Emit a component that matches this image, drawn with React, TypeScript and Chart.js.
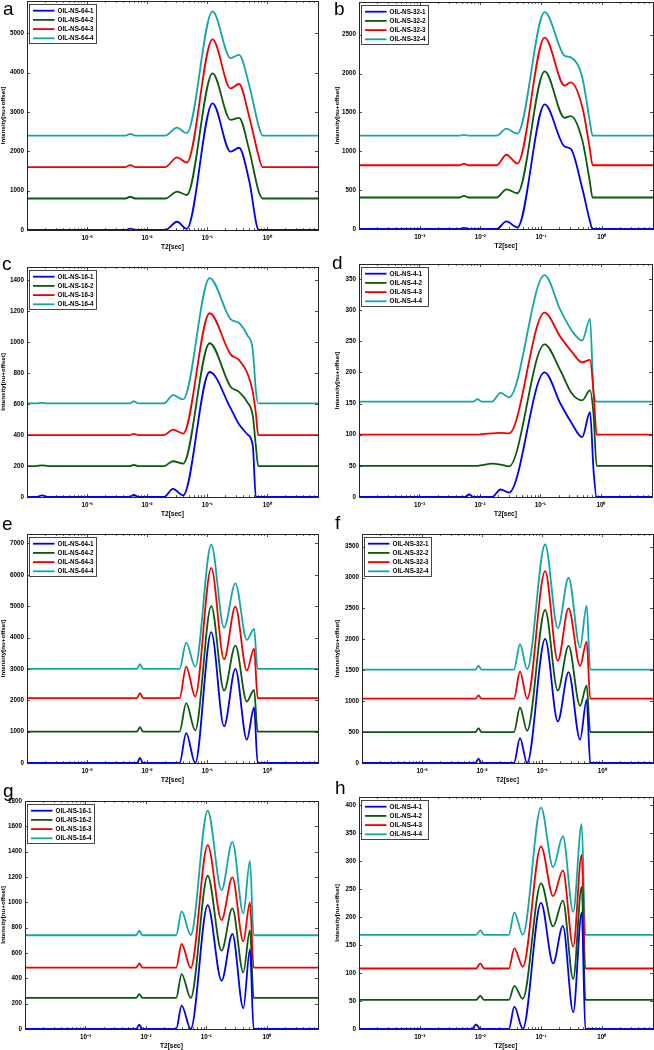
import React, { useEffect, useRef } from "react";
import { Chart, registerables } from "chart.js";

Chart.register(...registerables);

const FONT = '"Liberation Sans", Arial, Helvetica, sans-serif';
const COLORS = ["#0000f2", "#0b5a0b", "#f20000", "#14a6a6"];

// ---- axis ticks ----
const X_MIN = 0.0001;
const X_MAX = 7;
const X_TICKS = [0.001, 0.01, 0.1, 1];
const X_TICK_LABELS = ["10⁻³", "10⁻²", "10⁻¹", "10⁰"];

const Y_TICKS_A = [0, 1000, 2000, 3000, 4000, 5000];
const Y_TICKS_B = [0, 500, 1000, 1500, 2000, 2500];
const Y_TICKS_C = [0, 200, 400, 600, 800, 1000, 1200, 1400];
const Y_TICKS_D = [0, 50, 100, 150, 200, 250, 300, 350];
const Y_TICKS_E = [0, 1000, 2000, 3000, 4000, 5000, 6000, 7000];
const Y_TICKS_F = [0, 500, 1000, 1500, 2000, 2500, 3000, 3500];
const Y_TICKS_G = [0, 200, 400, 600, 800, 1000, 1200, 1400, 1600, 1800];
const Y_TICKS_H = [0, 50, 100, 150, 200, 250, 300, 350, 400];

// ---- series names ----
const NAMES_64 = ["OIL-NS-64-1", "OIL-NS-64-2", "OIL-NS-64-3", "OIL-NS-64-4"];
const NAMES_32 = ["OIL-NS-32-1", "OIL-NS-32-2", "OIL-NS-32-3", "OIL-NS-32-4"];
const NAMES_16 = ["OIL-NS-16-1", "OIL-NS-16-2", "OIL-NS-16-3", "OIL-NS-16-4"];
const NAMES_4 = ["OIL-NS-4-1", "OIL-NS-4-2", "OIL-NS-4-3", "OIL-NS-4-4"];

// ---- panel a ----
const T2_A = [0.0001, 0.00437, 0.00525, 0.00631, 0.02, 0.0316, 0.0457, 0.123, 0.245, 0.339, 0.501, 0.724, 0.832, 7.0];
const A1 = [0, 0, 35, 0, 0, 210, 30, 3220, 1990, 2090, 1250, 0, 0, 0];
const A2 = [800, 800, 845, 800, 800, 975, 890, 3980, 2800, 2850, 2030, 970, 800, 800];
const A3 = [1600, 1600, 1650, 1600, 1600, 1845, 1710, 4845, 3600, 3710, 2880, 1860, 1600, 1600];
const A4 = [2400, 2400, 2440, 2400, 2400, 2600, 2460, 5555, 4370, 4450, 3680, 2630, 2400, 2400];

// ---- panel b ----
const T2_B = [0.0001, 0.00447, 0.00537, 0.00646, 0.0186, 0.0269, 0.0407, 0.115, 0.245, 0.309, 0.479, 0.631, 0.708, 7.0];
const B1 = [0, 0, 15, 0, 0, 98, 20, 1602, 1060, 1030, 520, 120, 0, 0];
const B2 = [405, 405, 425, 405, 405, 510, 460, 2028, 1430, 1453, 1140, 630, 405, 405];
const B3 = [820, 820, 840, 820, 820, 955, 843, 2462, 1845, 1887, 1570, 1055, 820, 820];
const B4 = [1200, 1200, 1212, 1200, 1200, 1290, 1227, 2790, 2228, 2207, 1950, 1400, 1200, 1200];

// ---- panel c ----
const T2_C = [0.0001, 0.000141, 0.000178, 0.000224, 0.00501, 0.00603, 0.00724, 0.0191, 0.0269, 0.0398, 0.11, 0.245, 0.339, 0.468, 0.575, 0.646, 0.708, 7.0];
const C1 = [0, 0, 10, 0, 0, 13, 0, 0, 52, 10, 808, 575, 470, 405, 330, 0, 0, 0];
const C2 = [200, 200, 205, 200, 200, 207, 200, 200, 231, 216, 994, 713, 680, 612, 525, 330, 200, 200];
const C3 = [400, 400, 400, 400, 400, 408, 400, 400, 436, 410, 1188, 922, 886, 800, 680, 540, 400, 400];
const C4 = [605, 605, 608, 605, 605, 618, 605, 605, 659, 631, 1415, 1150, 1125, 1045, 950, 690, 605, 605];

// ---- panel d ----
const T2_D = [0.0001, 0.00562, 0.00661, 0.00776, 0.00912, 0.0107, 0.0158, 0.0219, 0.0302, 0.117, 0.214, 0.331, 0.49, 0.661, 0.759, 0.851, 7.0];
const D1 = [0, 0, 4, 0, 0, 0, 0, 12, 7, 200, 150, 118, 96, 136, 40, 0, 0];
const D2 = [50, 50, 50, 50, 50, 51, 53.5, 52, 49, 245, 203, 166, 155, 171, 130, 50, 50];
const D3 = [100, 100, 100, 100, 100, 101, 102, 103, 102, 296, 257, 233, 216, 220, 166, 100, 100];
const D4 = [153, 153, 153, 153, 157, 153, 153, 167, 160, 356, 300, 267, 251, 286, 165, 153, 153];

// ---- panel e ----
const T2_E = [0.0001, 0.00676, 0.00759, 0.00851, 0.0347, 0.0447, 0.0631, 0.117, 0.191, 0.295, 0.457, 0.603, 0.692, 7.0];
const E1 = [0, 0, 160, 0, 0, 954, 0, 4170, 1166, 3000, 742, 1770, 0, 0];
const E2 = [1000, 1000, 1145, 1000, 1000, 1908, 1040, 5003, 2311, 3742, 1961, 2332, 1000, 1000];
const E3 = [2070, 2070, 2226, 2070, 2070, 3074, 2120, 6222, 3307, 4982, 2947, 3646, 2070, 2070];
const E4 = [3000, 3000, 3148, 3000, 3000, 3837, 3074, 6964, 4314, 5724, 3922, 4272, 3000, 3000];

// ---- panel f ----
const T2_F = [0.0001, 0.00776, 0.00871, 0.00977, 0.0339, 0.0427, 0.0562, 0.112, 0.182, 0.275, 0.427, 0.55, 0.631, 7.0];
const F1 = [0, 0, 70, 0, 0, 403, 0, 2007, 672, 1469, 377, 1022, 0, 0];
const F2 = [500, 500, 565, 500, 500, 898, 522, 2475, 1173, 1894, 925, 1254, 500, 500];
const F3 = [1040, 1040, 1092, 1040, 1040, 1480, 1040, 3104, 1652, 2502, 1571, 1964, 1040, 1040];
const F4 = [1510, 1510, 1576, 1510, 1510, 1921, 1517, 3535, 2179, 2997, 1867, 2545, 1510, 1510];

// ---- panel g ----
const T2_G = [0.0001, 0.00692, 0.00776, 0.00871, 0.0316, 0.0389, 0.055, 0.105, 0.178, 0.269, 0.407, 0.525, 0.603, 7.0];
const G1 = [0, 0, 34, 0, 0, 184, 0, 978, 381, 750, 163, 631, 0, 0];
const G2 = [245, 245, 276, 245, 245, 434, 245, 1210, 618, 952, 447, 781, 245, 245];
const G3 = [485, 485, 518, 485, 485, 671, 481, 1452, 860, 1197, 692, 1000, 485, 485];
const G4 = [740, 740, 776, 740, 740, 928, 742, 1723, 1097, 1478, 913, 1328, 740, 740];

// ---- panel h ----
const T2_H = [0.0001, 0.00724, 0.00851, 0.01, 0.0115, 0.0295, 0.0363, 0.0501, 0.1, 0.158, 0.229, 0.339, 0.468, 0.537, 7.0];
const H1 = [0, 0, 8, 0, 0, 0, 40, 0, 225, 117, 184, 30, 208, 0, 0];
const H2 = [52, 52, 52, 59, 52, 52, 77, 54, 260, 183, 229, 89, 254, 52, 52];
const H3 = [108, 108, 108, 117, 108, 108, 144, 111, 326, 237, 283, 147, 311, 108, 108];
const H4 = [168, 168, 168, 176, 168, 168, 208, 168, 395, 289, 344, 209, 366, 168, 168];

type Panel = {
  letter: string;
  names: string[];
  t2: number[];
  series: number[][];
  yMax: number;
  yTicks: number[];
  cellX: number;
  plot: { l: number; t: number; r: number; b: number };
  letterPos: { x: number; y: number };
  yTitlePad: number;
};

const PANELS: Panel[] = [
  { letter: "a", names: NAMES_64, t2: T2_A, series: [A1, A2, A3, A4], yMax: 5820, yTicks: Y_TICKS_A, cellX: 0, plot: { l: 27, t: 1, r: 318, b: 230 }, letterPos: { x: 3, y: 15 }, yTitlePad: 0 },
  { letter: "b", names: NAMES_32, t2: T2_B, series: [B1, B2, B3, B4], yMax: 2920, yTicks: Y_TICKS_B, cellX: 327, plot: { l: 359, t: 2, r: 653, b: 229 }, letterPos: { x: 334, y: 15 }, yTitlePad: 7 },
  { letter: "c", names: NAMES_16, t2: T2_C, series: [C1, C2, C3, C4], yMax: 1487, yTicks: Y_TICKS_C, cellX: 0, plot: { l: 27, t: 267, r: 318, b: 497 }, letterPos: { x: 2, y: 270 }, yTitlePad: 0 },
  { letter: "d", names: NAMES_4, t2: T2_D, series: [D1, D2, D3, D4], yMax: 374, yTicks: Y_TICKS_D, cellX: 327, plot: { l: 359, t: 264, r: 652, b: 497 }, letterPos: { x: 332, y: 269 }, yTitlePad: 7 },
  { letter: "e", names: NAMES_64, t2: T2_E, series: [E1, E2, E3, E4], yMax: 7300, yTicks: Y_TICKS_E, cellX: 0, plot: { l: 27, t: 534, r: 318, b: 763 }, letterPos: { x: 2, y: 530 }, yTitlePad: 0 },
  { letter: "f", names: NAMES_32, t2: T2_F, series: [F1, F2, F3, F4], yMax: 3705, yTicks: Y_TICKS_F, cellX: 327, plot: { l: 362, t: 534, r: 653, b: 763 }, letterPos: { x: 335, y: 529 }, yTitlePad: 7 },
  { letter: "g", names: NAMES_16, t2: T2_G, series: [G1, G2, G3, G4], yMax: 1800, yTicks: Y_TICKS_G, cellX: 0, plot: { l: 25, t: 801, r: 318, b: 1029 }, letterPos: { x: 3, y: 797 }, yTitlePad: 0 },
  { letter: "h", names: NAMES_4, t2: T2_H, series: [H1, H2, H3, H4], yMax: 414, yTicks: Y_TICKS_H, cellX: 327, plot: { l: 359, t: 797, r: 653, b: 1029 }, letterPos: { x: 335, y: 794 }, yTitlePad: 7 },
];

const X_AXIS_H = 21;
const TOP_PAD = 7;

const framePlugin = {
  id: "matlabFrame",
  afterDraw(chart: any) {
    const { ctx, chartArea } = chart;
    const { left, top, right, bottom } = chartArea;
    const xs = chart.scales.x;
    const ys = chart.scales.y;
    ctx.save();
    ctx.strokeStyle = "#222";
    ctx.lineWidth = 0.8;
    ctx.beginPath();
    ys.ticks.forEach((t: any) => {
      const py = Math.round(ys.getPixelForValue(t.value)) + 0.5;
      ctx.moveTo(left, py);
      ctx.lineTo(left + 3, py);
      ctx.moveTo(right, py);
      ctx.lineTo(right - 3, py);
    });
    xs.ticks.forEach((t: any) => {
      const px = Math.round(xs.getPixelForValue(t.value)) + 0.5;
      ctx.moveTo(px, bottom);
      ctx.lineTo(px, bottom - 3);
      ctx.moveTo(px, top);
      ctx.lineTo(px, top + 3);
    });
    const e0 = Math.floor(Math.log10(xs.min));
    const e1 = Math.ceil(Math.log10(xs.max));
    for (let e = e0; e <= e1; e++) {
      for (let k = 2; k <= 9; k++) {
        const v = k * Math.pow(10, e);
        if (v <= xs.min || v >= xs.max) continue;
        const px = Math.round(xs.getPixelForValue(v)) + 0.5;
        ctx.moveTo(px, bottom);
        ctx.lineTo(px, bottom - 1.8);
        ctx.moveTo(px, top);
        ctx.lineTo(px, top + 1.8);
      }
    }
    ctx.stroke();
    ctx.lineWidth = 1;
    ctx.strokeStyle = "#262626";
    ctx.strokeRect(Math.round(left) + 0.5, Math.round(top) + 0.5, Math.round(right - left), Math.round(bottom - top));

    // legend box (inside the axes, top-left)
    const bx = Math.round(left) + 2.5;
    const by = Math.round(top) + 3.5;
    const bw = 67;
    const bh = 39;
    ctx.fillStyle = "#fff";
    ctx.fillRect(bx, by, bw, bh);
    ctx.strokeStyle = "#333";
    ctx.lineWidth = 0.9;
    ctx.strokeRect(bx, by, bw, bh);
    ctx.font = `bold 6.3px ${FONT}`;
    ctx.textBaseline = "middle";
    ctx.textAlign = "left";
    chart.data.datasets.forEach((ds: any, i: number) => {
      const cy = by + 6.2 + i * 9.2;
      ctx.strokeStyle = ds.borderColor;
      ctx.lineWidth = 1.8;
      ctx.beginPath();
      ctx.moveTo(bx + 3.5, cy);
      ctx.lineTo(bx + 25, cy);
      ctx.stroke();
      ctx.fillStyle = "#000";
      ctx.fillText(ds.label, bx + 28, cy + 0.3);
    });
    ctx.restore();
  },
};

function PanelChart({ p }: { p: Panel }) {
  const ref = useRef<HTMLCanvasElement>(null);
  const W = p.plot.r - p.cellX + 2;
  const H = p.plot.b - p.plot.t + TOP_PAD + X_AXIS_H;

  useEffect(() => {
    const canvas = ref.current;
    if (!canvas) return;
    const tickFont = { size: 6.3, weight: "bold" as const, family: FONT };
    const chart = new Chart(canvas, {
      type: "line",
      data: {
        datasets: p.series.map((ys, si) => ({
          label: p.names[si],
          data: p.t2.map((x, i) => ({ x, y: ys[i] })),
          borderColor: COLORS[si],
          backgroundColor: COLORS[si],
          borderWidth: 1.8,
          pointRadius: 0,
          fill: false,
          cubicInterpolationMode: "monotone" as const,
        })),
      },
      options: {
        animation: false,
        responsive: false,
        events: [],
        layout: { padding: { top: TOP_PAD, right: 2, left: 0, bottom: 0 }, autoPadding: false },
        plugins: { legend: { display: false }, tooltip: { enabled: false } },
        scales: {
          x: {
            type: "logarithmic",
            min: X_MIN,
            max: X_MAX,
            grid: { display: false, drawTicks: false },
            border: { display: false },
            afterBuildTicks: (s: any) => {
              s.ticks = X_TICKS.map((v) => ({ value: v }));
            },
            ticks: {
              autoSkip: false,
              maxRotation: 0,
              color: "#000",
              padding: 4,
              font: tickFont,
              callback: (_v: any, i: number) => X_TICK_LABELS[i],
            },
            title: { display: true, text: "T2[sec]", color: "#000", font: { size: 6.5, weight: "bold", family: FONT }, padding: 0 },
            afterFit: (s: any) => {
              s.height = X_AXIS_H;
              s.paddingLeft = 0;
              s.paddingRight = 0;
            },
          },
          y: {
            type: "linear",
            min: 0,
            max: p.yMax,
            grid: { display: false, drawTicks: false },
            border: { display: false },
            afterBuildTicks: (s: any) => {
              s.ticks = p.yTicks.map((v) => ({ value: v }));
            },
            ticks: {
              autoSkip: false,
              color: "#000",
              padding: 3,
              font: tickFont,
              callback: (v: any) => String(v),
            },
            title: {
              display: true,
              text: "Intensity[nu+offset]",
              color: "#000",
              font: { size: 6.2, weight: "bold", family: FONT },
              padding: { top: p.yTitlePad, bottom: 0 },
            },
            afterFit: (s: any) => {
              s.width = p.plot.l - p.cellX;
              s.paddingTop = 0;
              s.paddingBottom = 0;
            },
          },
        },
      },
      plugins: [framePlugin],
    } as any);
    return () => chart.destroy();
  }, []);

  return (
    <canvas
      ref={ref}
      width={W}
      height={H}
      style={{ position: "absolute", left: p.cellX, top: p.plot.t - TOP_PAD, width: W, height: H }}
    />
  );
}

export default function App() {
  return (
    <div
      style={{
        position: "absolute",
        left: 0,
        top: 0,
        width: 654,
        height: 1050,
        overflow: "hidden",
        background: "#fff",
      }}
    >
      {PANELS.map((p) => (
        <PanelChart key={p.letter} p={p} />
      ))}
      {PANELS.map((p) => (
        <div
          key={"L" + p.letter}
          style={{
            position: "absolute",
            left: p.letterPos.x,
            top: p.letterPos.y - 16,
            fontFamily: FONT,
            fontSize: 19,
            lineHeight: "19px",
            color: "#000",
          }}
        >
          {p.letter}
        </div>
      ))}
    </div>
  );
}
